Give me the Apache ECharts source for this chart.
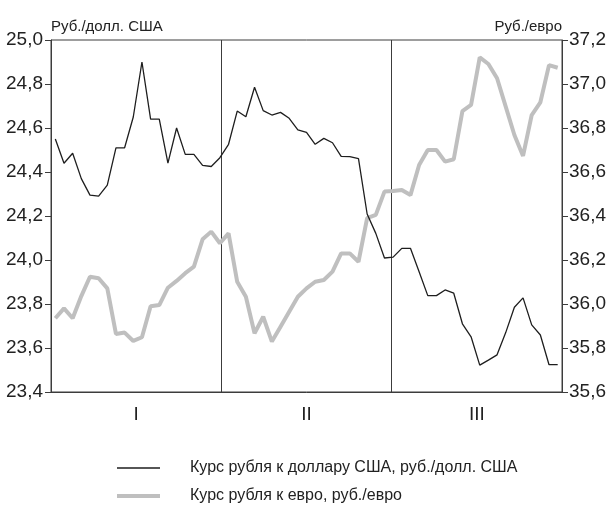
<!DOCTYPE html>
<html>
<head>
<meta charset="utf-8">
<script src="https://cdn.jsdelivr.net/npm/echarts@6/dist/echarts.min.js"></script>
<style>html,body{margin:0;padding:0;background:#fff;}#c{width:609px;height:511px;}</style>
</head>
<body>
<div id="c"></div>
<script>
const quarters = ['I', 'II', 'III'];
const leftTicks = { min: 23.4, max: 25.0, step: 0.2 };
const rightTicks = { min: 35.6, max: 37.2, step: 0.2 };
const usd = [24.55, 24.44, 24.485, 24.37, 24.295, 24.29, 24.34, 24.51, 24.51, 24.65,
  24.90, 24.64, 24.64, 24.44, 24.60, 24.48, 24.48, 24.43, 24.425, 24.465,
  24.526, 24.677, 24.651, 24.785, 24.679, 24.659, 24.671, 24.644, 24.591, 24.58,
  24.526, 24.553, 24.533, 24.471, 24.47, 24.461, 24.209, 24.121, 24.009, 24.013,
  24.053, 24.053, 23.947, 23.838, 23.838, 23.864, 23.849, 23.71, 23.651, 23.522,
  23.545, 23.569, 23.67, 23.785, 23.828, 23.705, 23.659, 23.524, 23.524];
const eur = [35.935, 35.98, 35.935, 36.036, 36.124, 36.117, 36.071, 35.864, 35.87, 35.832,
  35.849, 35.99, 35.995, 36.074, 36.105, 36.14, 36.17, 36.294, 36.329, 36.276,
  36.321, 36.101, 36.033, 35.867, 35.942, 35.829, 35.897, 35.965, 36.033, 36.071,
  36.101, 36.109, 36.147, 36.23, 36.23, 36.192, 36.39, 36.405, 36.511, 36.514,
  36.518, 36.495, 36.632, 36.7, 36.7, 36.647, 36.658, 36.877, 36.905, 37.121,
  37.091, 37.026, 36.897, 36.768, 36.673, 36.859, 36.917, 37.086, 37.074];
const usdName = 'Курс рубля к доллару США, руб./долл. США';
const eurName = 'Курс рубля к евро, руб./евро';
const leftAxisName = 'Руб./долл. США';
const rightAxisName = 'Руб./евро';

const days = usd.map((_, i) => String(i + 1));
const FONT = "'Liberation Sans Narrow', 'Liberation Sans', Arial, sans-serif";
const fmt = v => v.toFixed(1).replace('.', ',');
const AX = '#3c3c3c';
const USD_COLOR = '#1e1e1e';
const EUR_COLOR = '#bfbfbf';

const chart = echarts.init(document.getElementById('c'), null, { renderer: 'canvas' });
chart.setOption({
  backgroundColor: '#fff',
  animation: false,
  textStyle: { fontFamily: FONT, color: '#222' },
  grid: { left: 51, right: 41, top: 40, bottom: 119, show: true, borderColor: AX, borderWidth: 1 },
  xAxis: [{
    type: 'category', data: days, boundaryGap: true,
    axisLine: { show: false }, axisTick: { show: false }, axisLabel: { show: false }, splitLine: { show: false }
  }, {
    type: 'category', data: quarters, boundaryGap: true, position: 'bottom',
    axisLine: { show: true, lineStyle: { color: AX, width: 1 } },
    axisTick: { show: false },
    axisLabel: { fontFamily: FONT, fontSize: 19, color: '#222', margin: 13 },
    splitLine: { show: true, lineStyle: { color: AX, width: 1 } }
  }],
  yAxis: [{
    type: 'value', position: 'left', min: leftTicks.min, max: leftTicks.max, interval: leftTicks.step,
    name: leftAxisName, nameLocation: 'end', nameGap: 6,
    nameTextStyle: { fontFamily: FONT, fontSize: 15, color: '#222', align: 'left', verticalAlign: 'bottom' },
    axisLine: { show: true, lineStyle: { color: AX } },
    axisTick: { show: true, inside: false, length: 6, lineStyle: { color: AX } },
    axisLabel: { formatter: fmt, fontFamily: FONT, fontSize: 19, color: '#222', margin: 8 },
    splitLine: { show: false }
  }, {
    type: 'value', position: 'right', min: rightTicks.min, max: rightTicks.max, interval: rightTicks.step,
    name: rightAxisName, nameLocation: 'end', nameGap: 6,
    nameTextStyle: { fontFamily: FONT, fontSize: 15, color: '#222', align: 'right', verticalAlign: 'bottom' },
    axisLine: { show: true, lineStyle: { color: AX } },
    axisTick: { show: true, inside: false, length: 6, lineStyle: { color: AX } },
    axisLabel: { formatter: fmt, fontFamily: FONT, fontSize: 19, color: '#222', margin: 7 },
    splitLine: { show: false }
  }],
  legend: {
    orient: 'vertical', left: 117, top: 460, padding: 0, height: 51,
    itemWidth: 43, itemHeight: 14, itemGap: 12,
    textStyle: { fontFamily: FONT, fontSize: 16, color: '#222', padding: [0, 0, 0, 25] },
    data: [
      { name: usdName, icon: 'path://M0,0H43V1.5H0Z', itemStyle: { color: USD_COLOR } },
      { name: eurName, icon: 'path://M0,0H43V4H0Z', itemStyle: { color: EUR_COLOR } }
    ]
  },
  series: [{
    name: eurName, type: 'line', xAxisIndex: 0, yAxisIndex: 1, data: eur,
    symbol: 'none', smooth: false,
    lineStyle: { color: EUR_COLOR, width: 4 }, itemStyle: { color: EUR_COLOR }, z: 2
  }, {
    name: usdName, type: 'line', xAxisIndex: 0, yAxisIndex: 0, data: usd,
    symbol: 'none', smooth: false,
    lineStyle: { color: USD_COLOR, width: 1.3 }, itemStyle: { color: USD_COLOR }, z: 3
  }]
});
</script>
</body>
</html>
